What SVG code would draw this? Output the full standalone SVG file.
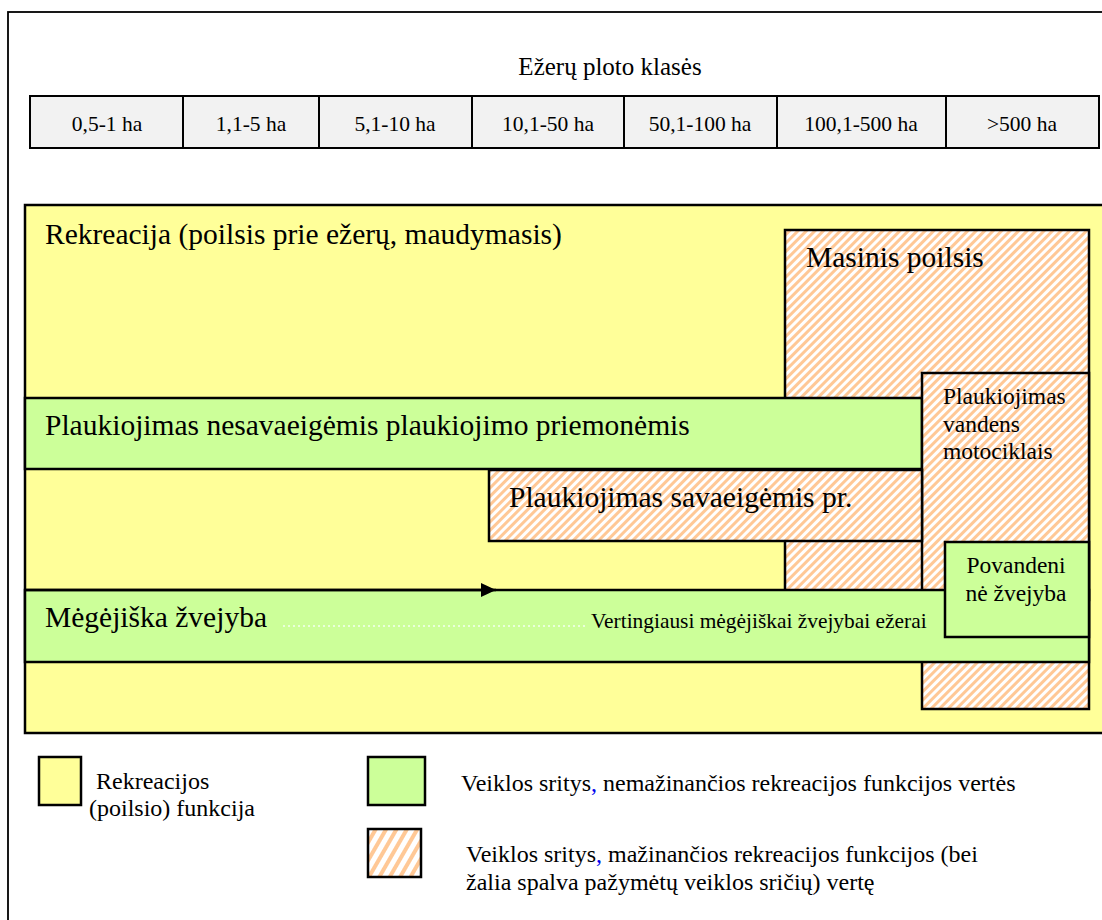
<svg xmlns="http://www.w3.org/2000/svg" width="1102" height="920" viewBox="0 0 1102 920">
<style>
text{font-family:"Liberation Serif","Times New Roman",serif;fill:#000}
.cell{fill:#f2f2f2;stroke:#000;stroke-width:2}
.ct{font-size:21.5px;text-anchor:middle}
.big{font-size:29.5px}
.mid{font-size:23.5px}
.leg{font-size:24px}
.yel{fill:#ffff99;stroke:#000;stroke-width:2.5}
.grn{fill:#ccff99;stroke:#000;stroke-width:2.5}
.hat{fill:url(#hatch);stroke:#000;stroke-width:2.5}
.lnk{fill:#0000ee;text-decoration:underline}
</style>
<defs>
<pattern id="hatch" patternUnits="userSpaceOnUse" width="6" height="6" patternTransform="rotate(45)">
<rect width="6" height="6" fill="#ffffff"/>
<rect width="3" height="6" fill="#ffc896"/>
</pattern>
<pattern id="hatch2" patternUnits="userSpaceOnUse" width="9" height="9" patternTransform="rotate(30)">
<rect width="9" height="9" fill="#ffffff"/>
<rect width="4" height="9" fill="#ffc896"/>
</pattern>
<marker id="arr" markerWidth="15" markerHeight="14" refX="15" refY="7" orient="auto" markerUnits="userSpaceOnUse">
<path d="M0,0 L15,7 L0,14 z" fill="#000"/>
</marker>
</defs>
<rect x="8" y="12" width="1200" height="1000" fill="#fff" stroke="#000" stroke-width="1.8"/>
<g id="title"><text x="610" y="75" style="font-size:25px" text-anchor="middle">Ežerų ploto klasės</text></g>
<g id="table">
<rect class="cell" x="30" y="96" width="153" height="52"/>
<rect class="cell" x="183" y="96" width="136" height="52"/>
<rect class="cell" x="319" y="96" width="153" height="52"/>
<rect class="cell" x="472" y="96" width="152" height="52"/>
<rect class="cell" x="624" y="96" width="153" height="52"/>
<rect class="cell" x="777" y="96" width="169" height="52"/>
<rect class="cell" x="946" y="96" width="153" height="52"/>
<text class="ct" x="107" y="131">0,5-1 ha</text>
<text class="ct" x="251" y="131">1,1-5 ha</text>
<text class="ct" x="395" y="131">5,1-10 ha</text>
<text class="ct" x="548" y="131">10,1-50 ha</text>
<text class="ct" x="700" y="131">50,1-100 ha</text>
<text class="ct" x="861" y="131">100,1-500 ha</text>
<text class="ct" x="1022" y="131">&gt;500 ha</text>
</g>
<g id="rekreacija"><rect class="yel" x="25" y="205" width="1200" height="528"/>
<text class="big" x="45" y="244">Rekreacija (poilsis prie ežerų, maudymasis)</text></g>
<g id="masinis"><rect class="hat" x="785" y="230" width="304" height="370"/>
<text class="big" x="806" y="267">Masinis poilsis</text></g>
<g id="nesavaeigemis"><rect class="grn" x="25" y="398" width="897" height="71"/>
<text class="big" x="45" y="435">Plaukiojimas nesavaeigėmis plaukiojimo priemonėmis</text></g>
<g id="motociklai"><rect class="hat" x="922" y="373" width="167" height="336"/>
<text class="mid" x="943" y="404">Plaukiojimas</text>
<text class="mid" x="943" y="432">vandens</text>
<text class="mid" x="943" y="459">motociklais</text></g>
<g id="savaeigemis"><rect class="hat" x="489" y="470" width="433" height="71"/>
<text class="big" x="509" y="507">Plaukiojimas savaeigėmis pr.</text></g>
<g id="megejiska"><rect class="grn" x="25" y="590" width="1064" height="72"/>
<text class="big" x="45" y="627">Mėgėjiška žvejyba</text>
<line x1="283" y1="626" x2="588" y2="626" stroke="#f4fff0" stroke-width="1.5" stroke-dasharray="2,3"/>
<text x="591" y="628" style="font-size:21.4px">Vertingiausi mėgėjiškai žvejybai ežerai</text></g>
<g id="povandenine"><rect class="grn" x="945" y="542" width="144" height="95"/>
<text class="mid" x="1016" y="573" text-anchor="middle">Povandeni</text>
<text class="mid" x="1016" y="601" text-anchor="middle">nė žvejyba</text></g>
<g id="connectors"><line x1="25" y1="590" x2="496" y2="590" stroke="#000" stroke-width="2.5" marker-end="url(#arr)"/></g>
<g id="legend">
<rect x="39" y="757" width="42" height="48" fill="#ffff99" stroke="#000" stroke-width="2.5"/>
<text class="leg" x="96" y="789">Rekreacijos</text>
<text class="leg" x="89" y="816">(poilsio) funkcija</text>
<rect x="368" y="757" width="57" height="48" fill="#ccff99" stroke="#000" stroke-width="2.5"/>
<text class="leg" x="461" y="791">Veiklos sritys<tspan class="lnk">,</tspan> nemažinančios rekreacijos funkcijos vertės</text>
<rect x="368" y="829" width="53" height="48" fill="url(#hatch2)" stroke="#000" stroke-width="2.5"/>
<text class="leg" x="466" y="862">Veiklos sritys<tspan class="lnk">,</tspan> mažinančios rekreacijos funkcijos (bei</text>
<text class="leg" x="466" y="890">žalia spalva pažymėtų veiklos sričių) vertę</text>
</g>
</svg>
